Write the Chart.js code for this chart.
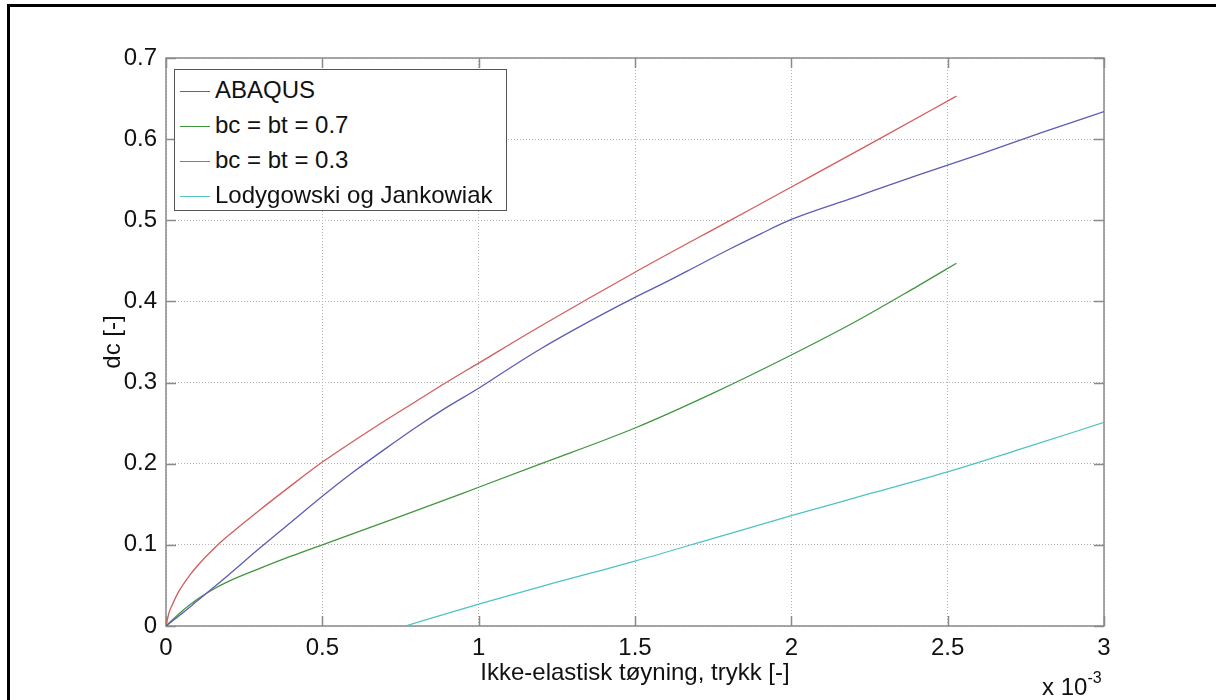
<!DOCTYPE html>
<html>
<head>
<meta charset="utf-8">
<title>dc vs ikke-elastisk tøyning</title>
<script src="https://cdn.jsdelivr.net/npm/chart.js@4.4.1/dist/chart.umd.min.js"></script>
<style>
  html, body { margin: 0; padding: 0; background: #fff; overflow: hidden; }
  #wrap { position: relative; width: 1216px; height: 700px; overflow: hidden; }
  #frame { position: absolute; left: 7px; top: 4px; width: 1300px; height: 800px; border: 3px solid #000; box-sizing: border-box; }
  #chart { position: absolute; left: 0; top: 0; }
  #legend { position: absolute; left: 174px; top: 69px; width: 333px; height: 142px; box-sizing: border-box;
            border: 1px solid #555; background: #fff; font: 24px "Liberation Sans", Arial, sans-serif; color: #111; }
  #legend .item { position: absolute; left: 5px; height: 35px; line-height: 35px; white-space: nowrap; }
  #legend .swatch { display: inline-block; width: 30px; height: 1px; vertical-align: middle; margin-right: 5px; }
  #expo { position: absolute; left: 1042px; top: 667px; font: 24px "Liberation Sans", Arial, sans-serif; line-height: 28px; color: #111; white-space: nowrap; }
  #expo sup { font-size: 16px; position: relative; top: -3px; }
</style>
</head>
<body>
<div id="wrap">
  <div id="frame"></div>
  <canvas id="chart" width="1216" height="700"></canvas>
  <div id="legend"></div>
  <div id="expo">x 10<sup>-3</sup></div>
</div>
<script>
// x values are in units of 1e-3 (shown by the "x 10^-3" note)
const abaqusX = [0, 0.05, 0.1, 0.2, 0.3, 0.4, 0.5, 0.6, 0.7, 0.8, 0.9, 1.0, 1.1, 1.2, 1.3, 1.4, 1.5, 1.6, 1.7, 1.8, 1.9, 2.0, 2.2, 2.4, 2.6, 2.8, 3.0];
const abaqusY = [0, 0.015, 0.031, 0.063, 0.096, 0.128, 0.160, 0.190, 0.218, 0.245, 0.270, 0.293, 0.318, 0.342, 0.364, 0.385, 0.405, 0.424, 0.444, 0.464, 0.483, 0.501, 0.528, 0.555, 0.581, 0.608, 0.634];

const bc07X = [0, 0.05, 0.1, 0.15, 0.2, 0.3, 0.4, 0.5, 0.75, 1.0, 1.2, 1.5, 1.75, 2.0, 2.2, 2.4, 2.528];
const bc07Y = [0, 0.018, 0.033, 0.045, 0.055, 0.071, 0.086, 0.100, 0.135, 0.171, 0.200, 0.244, 0.287, 0.334, 0.374, 0.418, 0.447];

const bc03X = [0, 0.01, 0.02, 0.04, 0.075, 0.1, 0.16, 0.22, 0.3, 0.4, 0.5, 0.6, 0.7, 0.8, 0.9, 1.0, 1.2, 1.5, 1.8, 2.0, 2.28, 2.528];
const bc03Y = [0, 0.017, 0.026, 0.042, 0.062, 0.074, 0.098, 0.118, 0.143, 0.173, 0.202, 0.228, 0.253, 0.277, 0.301, 0.324, 0.370, 0.436, 0.499, 0.541, 0.600, 0.653];

const lodX = [0.765, 1.0, 1.25, 1.5, 1.75, 2.0, 2.25, 2.5, 2.75, 3.0];
const lodY = [0, 0.027, 0.054, 0.080, 0.108, 0.136, 0.163, 0.190, 0.220, 0.251];

const seriesNames = ["ABAQUS", "bc = bt = 0.7", "bc = bt = 0.3", "Lodygowski og Jankowiak"];
const seriesColors = ["#5c5cb4", "#3f963f", "#d45c5c", "#4fc3c3"];

const xTitle = "Ikke-elastisk tøyning, trykk [-]";
const yTitle = "dc [-]";

function toPoints(xs, ys) {
  return xs.map((x, i) => ({ x: x, y: ys[i] }));
}

const seriesData = [
  toPoints(abaqusX, abaqusY),
  toPoints(bc07X, bc07Y),
  toPoints(bc03X, bc03Y),
  toPoints(lodX, lodY),
];

const FONT = "'Liberation Sans', Arial, sans-serif";

// axes box + inward tick marks, matlab style
const boxTicks = {
  id: 'boxTicks',
  beforeDatasetsDraw(chart) {
    const { ctx, chartArea: a, scales: { x, y } } = chart;
    const len = 10;
    ctx.save();
    ctx.strokeStyle = '#8a8a8a';
    ctx.lineWidth = 1.5;
    ctx.beginPath();
    x.ticks.forEach(t => {
      const px = Math.round(x.getPixelForValue(t.value)) + 0.5;
      ctx.moveTo(px, a.bottom); ctx.lineTo(px, a.bottom - len);
      ctx.moveTo(px, a.top); ctx.lineTo(px, a.top + len);
    });
    y.ticks.forEach(t => {
      const py = Math.round(y.getPixelForValue(t.value)) + 0.5;
      ctx.moveTo(a.left, py); ctx.lineTo(a.left + len, py);
      ctx.moveTo(a.right, py); ctx.lineTo(a.right - len, py);
    });
    ctx.stroke();
    ctx.strokeRect(a.left, a.top, a.right - a.left, a.bottom - a.top);
    ctx.restore();
  }
};

const fmt = v => String(Math.round(v * 10) / 10);

const chart = new Chart(document.getElementById('chart'), {
  type: 'line',
  data: {
    datasets: seriesNames.map((name, i) => ({
      label: name,
      data: seriesData[i],
      borderColor: seriesColors[i],
      backgroundColor: seriesColors[i],
      borderWidth: 1.3,
      pointRadius: 0,
      fill: false,
      cubicInterpolationMode: 'monotone',
    })),
  },
  options: {
    responsive: false,
    animation: false,
    devicePixelRatio: 1,
    layout: { padding: { top: 58, right: 112, left: 0, bottom: 0 } },
    plugins: {
      legend: { display: false },
      tooltip: { enabled: false },
    },
    scales: {
      x: {
        type: 'linear',
        min: 0,
        max: 3,
        afterFit(scale) { scale.height = 74; },
        ticks: { stepSize: 0.5, padding: 8, color: '#111', font: { family: FONT, size: 24 }, callback: fmt },
        grid: { color: '#b4b4b4', lineWidth: 1, drawTicks: false },
        border: { display: false, dash: [1, 2] },
        title: { display: true, text: xTitle, color: '#111', font: { family: FONT, size: 24 }, padding: { top: 0, bottom: 12 } },
      },
      y: {
        type: 'linear',
        min: 0,
        max: 0.7,
        afterFit(scale) { scale.width = 166; },
        ticks: { stepSize: 0.1, padding: 9, color: '#111', font: { family: FONT, size: 24 }, callback: fmt },
        grid: { color: '#b4b4b4', lineWidth: 1, drawTicks: false },
        border: { display: false, dash: [1, 2] },
        title: { display: true, text: yTitle, color: '#111', font: { family: FONT, size: 24 }, padding: { top: 99, bottom: 0 } },
      },
    },
  },
  plugins: [boxTicks],
});

// legend box inside the axes, built from the datasets
const legendEl = document.getElementById('legend');
chart.data.datasets.forEach((ds, i) => {
  const item = document.createElement('div');
  item.className = 'item';
  item.style.top = (1.5 + i * 35) + 'px';
  const sw = document.createElement('span');
  sw.className = 'swatch';
  sw.style.backgroundColor = ds.borderColor;
  item.appendChild(sw);
  item.appendChild(document.createTextNode(ds.label));
  legendEl.appendChild(item);
});
</script>
</body>
</html>
